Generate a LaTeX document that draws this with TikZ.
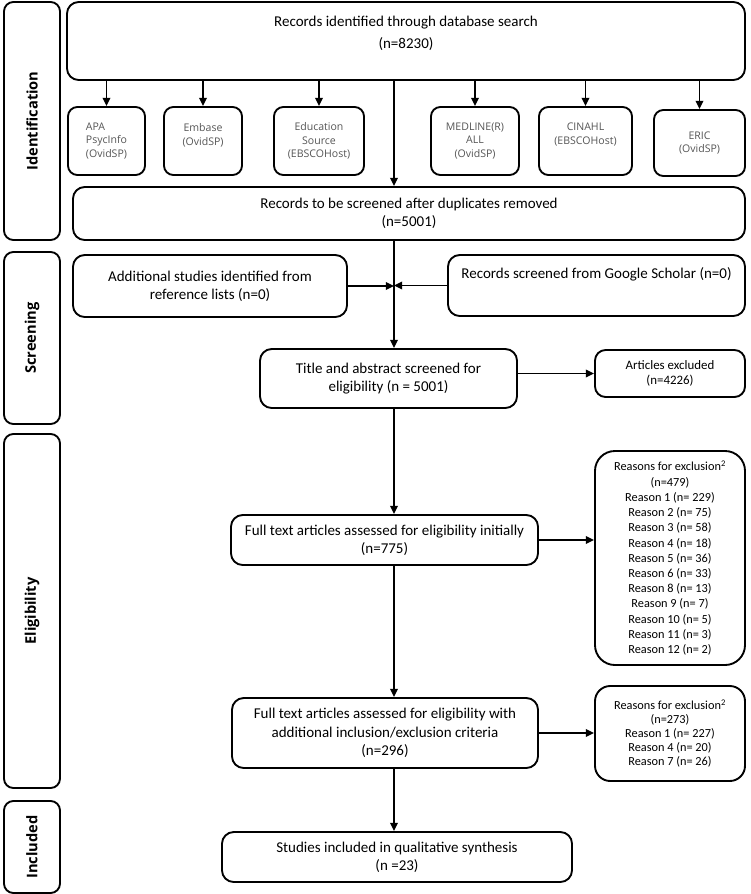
\documentclass[tikz,border=0pt]{standalone}
\usepackage{fontspec}
\setmainfont{Carlito}
\newfontfamily\dbfont{Open Sans}
\newfontfamily\stagefont{Open Sans}
\usetikzlibrary{arrows.meta}
\definecolor{dbgrey}{HTML}{555555}

\begin{document}
\begin{tikzpicture}[x=0.03cm, y=-0.03cm, >={Triangle[length=7pt,width=6.5pt]},
        box/.style={draw, line width=1.6pt, rounded corners=10pt, align=center, inner sep=1pt,
            font=\fontsize{12.8}{15.6}\selectfont},
        dbbox/.style={draw, line width=1.6pt, rounded corners=8pt, minimum height=2.04cm,
            inner sep=1pt, text=dbgrey, font=\dbfont\fontsize{9}{11.8}\selectfont},
        stagebox/.style={draw, line width=1.6pt, rounded corners=8pt, rotate=90,
            minimum height=1.68cm, font=\stagefont\bfseries\fontsize{12.5}{15}\selectfont},
        whybox/.style={draw, line width=1.6pt, align=center, minimum width=4.5cm,
            font=\fontsize{10.5}{13}\selectfont},
        link/.style={->, line width=1.2pt}]
        \useasboundingbox (0,0) rectangle (750,894);

        \node[stagebox, minimum width=7.14cm] (ident) at (32,121) {Identification};
        \node[stagebox, minimum width=5.16cm] (screen) at (32,338) {Screening};
        \node[stagebox, minimum width=10.62cm] (elig) at (32,611) {Eligibility};
        \node[stagebox, minimum width=2.76cm] (incl) at (32,847) {Included};

        \node[box, minimum width=20.34cm, minimum height=2.34cm,
            label={[anchor=north, yshift=-13pt, align=center, inner sep=0pt, font=\fontsize{12.8}{18}\selectfont]north:Records identified through database search\\(n=8230)}]
            (search) at (406,41) {};

        \node[dbbox, minimum width=2.31cm, align=left] (apa) at (106.5,141) {APA\\PsycInfo\\(OvidSP)};
        \node[dbbox, minimum width=2.34cm, align=center] (embase) at (203,141) {Embase\\(OvidSP)\\\mbox{}};
        \node[dbbox, minimum width=2.70cm, align=center] (educ) at (319,141) {Education\\Source\\(EBSCOHost)};
        \node[dbbox, minimum width=2.64cm, align=center] (medline) at (475,141) {MEDLINE(R)\\ALL\\(OvidSP)};
        \node[dbbox, minimum width=2.79cm, align=center] (cinahl) at (585.5,141) {CINAHL\\(EBSCOHost)\\\mbox{}};
        \node[dbbox, minimum width=2.73cm, minimum height=1.98cm, align=center] (eric) at (699.5,143) {ERIC\\(OvidSP)};

        \coordinate (spine) at (394,0);

        \node[box, minimum width=20.16cm, minimum height=1.59cm] (records) at (409,213.5)
            {Records to be screened after duplicates removed\\(n=5001)};
        \node[box, minimum width=8.22cm, minimum height=1.86cm] (addl) at (210,286)
            {Additional studies identified from\\reference lists (n=0)};
        \node[box, minimum width=8.91cm, minimum height=1.83cm,
            label={[anchor=north, yshift=-11pt, inner sep=0pt, font=\fontsize{12.8}{15.6}\selectfont]north:Records screened from Google Scholar (n=0)}]
            (google) at (596.5,285.5) {};

        \node[box, minimum width=7.71cm, minimum height=1.77cm] (title) at (388.5,378.5)
            {Title and abstract screened for\\eligibility (n = 5001)};
        \node[whybox, rounded corners=9pt, minimum height=1.41cm, font=\fontsize{11}{13.5}\selectfont] (excl) at (670,373.5)
            {Articles excluded\\(n=4226)};

        \node[box, minimum width=9.21cm, minimum height=1.5cm] (full1) at (384.5,540)
            {Full text articles assessed for eligibility initially\\(n=775)};
        \node[whybox, rounded corners=17pt, minimum height=6.42cm] (why1) at (670,558)
            {Reasons for exclusion\textsuperscript{2}\\(n=479)\\Reason 1 (n= 229)\\Reason 2 (n= 75)\\
            Reason 3 (n= 58)\\Reason 4 (n= 18)\\Reason 5 (n= 36)\\Reason 6 (n= 33)\\Reason 8 (n= 13)\\
            Reason 9 (n= 7)\\Reason 10 (n= 5)\\Reason 11 (n= 3)\\Reason 12 (n= 2)};

        \node[box, minimum width=9.18cm, minimum height=2.1cm] (full2) at (385,733)
            {Full text articles assessed for eligibility with\\additional inclusion/exclusion criteria\\(n=296)};
        \node[whybox, rounded corners=13pt, minimum height=2.85cm, font=\fontsize{10.5}{12}\selectfont] (why2) at (670,733.5)
            {Reasons for exclusion\textsuperscript{2}\\(n=273)\\Reason 1 (n= 227)\\Reason 4 (n= 20)\\Reason 7 (n= 26)};

        \node[box, minimum width=10.5cm, minimum height=1.5cm] (incd) at (397,857)
            {Studies included in qualitative synthesis\\(n =23)};

        \foreach \db in {apa, embase, educ, medline, cinahl, eric}
            \draw[link] (search.south -| \db) -- (\db);
        \draw[link] (search.south -| spine) -- (records.north -| spine);
        \draw[line width=1.2pt] (records.south -| spine) -- (addl.east -| spine);
        \draw[link] (addl.east -| spine) -- (title.north -| spine);
        \draw[link] (addl.east) -- (addl.east -| spine);
        \draw[link] (google.west) -- (google.west -| spine);
        \draw[link] (title.east |- excl.west) -- (excl.west);
        \draw[link] (title.south -| spine) -- (full1.north -| spine);
        \draw[link] (full1.east) -- (full1.east -| why1.west);
        \draw[link] (full1.south -| spine) -- (full2.north -| spine);
        \draw[link] (full2.east) -- (full2.east -| why2.west);
        \draw[link] (full2.south -| spine) -- (incd.north -| spine);
    \end{tikzpicture}
\end{document}
